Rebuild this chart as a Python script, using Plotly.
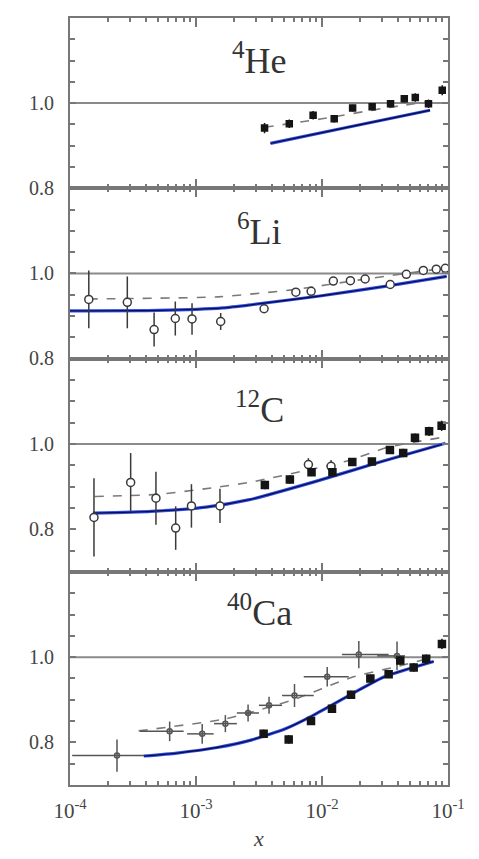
import plotly.graph_objects as go
from plotly.subplots import make_subplots

# ---------------- data ----------------
PANEL_LABELS = ["<sup>4</sup>He", "<sup>6</sup>Li", "<sup>12</sup>C", "<sup>40</sup>Ca"]
Y_RANGES = [[0.799, 1.2], [0.799, 1.2], [0.70, 1.2], [0.70, 1.2]]
X_TICKS = [1e-4, 1e-3, 1e-2, 1e-1]
X_TICKTEXT = ["10<sup>-4</sup>", "10<sup>-3</sup>", "10<sup>-2</sup>", "10<sup>-1</sup>"]
Y_TICKS = [0.8, 1.0]
Y_TICKTEXT = ["0.8", "1.0"]
UNITY = 1.0

# 4He
HE_X = [0.0035, 0.0055, 0.0085, 0.0125, 0.0175, 0.025, 0.035, 0.045, 0.055, 0.07, 0.09]
HE_Y = [0.941, 0.951, 0.971, 0.963, 0.988, 0.991, 0.998, 1.010, 1.013, 0.998, 1.030]
HE_ERR = [0.012, 0.010, 0.010, 0.009, 0.008, 0.008, 0.008, 0.009, 0.010, 0.010, 0.012]
HE_MODEL_X = [0.0039, 0.016, 0.072]
HE_MODEL_Y = [0.905, 0.943, 0.983]
HE_DASH_X = [0.0035, 0.01, 0.03, 0.072]
HE_DASH_Y = [0.943, 0.963, 0.987, 1.004]

# 6Li
LI_X = [1.41e-4, 2.85e-4, 4.65e-4, 6.85e-4, 9.3e-4, 1.57e-3, 3.47e-3, 6.2e-3, 8.2e-3,
        0.0123, 0.0168, 0.022, 0.0348, 0.0467, 0.0637, 0.0807, 0.0953]
LI_Y = [0.939, 0.932, 0.868, 0.894, 0.893, 0.887, 0.917, 0.956, 0.958,
        0.982, 0.983, 0.987, 0.974, 0.998, 1.007, 1.010, 1.012]
LI_ERR = [0.068, 0.061, 0.040, 0.040, 0.037, 0.020, 0.010, 0.008, 0.008,
          0.008, 0.008, 0.008, 0.008, 0.008, 0.008, 0.008, 0.008]
LI_MODEL_X = [1e-4, 5e-4, 1.64e-3, 2.84e-3, 9.6e-3, 0.0325, 0.0975]
LI_MODEL_Y = [0.912, 0.913, 0.919, 0.927, 0.947, 0.970, 0.993]
LI_DASH_X = [1.4e-4, 1.5e-3, 6e-3, 0.02, 0.0975]
LI_DASH_Y = [0.940, 0.945, 0.962, 0.985, 1.013]

# 12C
C_OPEN_X = [1.55e-4, 3.03e-4, 4.81e-4, 6.9e-4, 9.2e-4, 1.55e-3, 7.8e-3, 0.0118]
C_OPEN_Y = [0.828, 0.910, 0.873, 0.803, 0.855, 0.855, 0.952, 0.948]
C_OPEN_ERR = [0.092, 0.069, 0.062, 0.051, 0.051, 0.040, 0.015, 0.015]
C_FILL_X = [3.52e-3, 5.56e-3, 8.26e-3, 0.0121, 0.0174, 0.0249, 0.0346, 0.0441, 0.0547, 0.0708, 0.089]
C_FILL_Y = [0.904, 0.917, 0.934, 0.934, 0.958, 0.959, 0.986, 0.979, 1.015, 1.030, 1.043]
C_FILL_ERR = [0.010, 0.010, 0.009, 0.009, 0.009, 0.009, 0.009, 0.010, 0.010, 0.011, 0.012]
C_MODEL_X = [1.52e-4, 4.4e-4, 1.2e-3, 2.6e-3, 8.8e-3, 0.0297, 0.0955]
C_MODEL_Y = [0.838, 0.842, 0.852, 0.869, 0.912, 0.959, 1.002]
C_DASH_X = [1.57e-4, 5.0e-4, 1.32e-3, 2.75e-3, 0.0161, 0.0336, 0.1]
C_DASH_Y = [0.877, 0.882, 0.897, 0.911, 0.961, 0.993, 1.018]

# 40Ca
CA_E665_X = [2.36e-4, 6.18e-4, 1.12e-3, 1.71e-3, 2.59e-3, 3.8e-3, 6.05e-3, 0.011, 0.0196, 0.0394]
CA_E665_Y = [0.769, 0.826, 0.820, 0.844, 0.869, 0.887, 0.910, 0.954, 1.006, 1.003]
CA_E665_ERR = [0.038, 0.023, 0.023, 0.020, 0.020, 0.020, 0.027, 0.023, 0.032, 0.034]
CA_E665_XLO = [1.04e-4, 3.6e-4, 8.5e-4, 1.39e-3, 2.11e-3, 3.16e-3, 4.82e-3, 7.16e-3, 0.0144, 0.0274]
CA_E665_XHI = [3.86e-4, 7.98e-4, 1.38e-3, 2.11e-3, 3.16e-3, 4.82e-3, 8.6e-3, 0.0163, 0.0338, 0.0456]
CA_NMC_X = [3.44e-3, 5.44e-3, 8.18e-3, 0.012, 0.017, 0.0242, 0.0338, 0.0418, 0.0534, 0.0671, 0.0895]
CA_NMC_Y = [0.820, 0.807, 0.850, 0.879, 0.912, 0.950, 0.960, 0.992, 0.976, 0.996, 1.031]
CA_NMC_ERR = [0.010, 0.010, 0.009, 0.009, 0.009, 0.009, 0.009, 0.010, 0.010, 0.010, 0.012]
CA_MODEL_X = [3.85e-4, 7.06e-4, 1.47e-3, 2.78e-3, 5.12e-3, 8.07e-3, 0.0173, 0.0318, 0.0769]
CA_MODEL_Y = [0.768, 0.775, 0.788, 0.806, 0.832, 0.860, 0.914, 0.955, 0.990]
CA_DASH_X = [3.5e-4, 1.7e-3, 5.8e-3, 0.0173, 0.038, 0.0746]
CA_DASH_Y = [0.827, 0.855, 0.899, 0.953, 0.977, 0.999]

# ---------------- styles ----------------
FONT = "Liberation Serif"
AXIS_COL = "#777777"
TEXT_COL = "#444444"
BLUE = "#3050f0"
NAVY = "#0d0d45"
DASH_COL = "#7a7a7a"
PT_COL = "#151515"

fig = make_subplots(rows=4, cols=1, shared_xaxes=True, vertical_spacing=0,
                    row_heights=[0.4, 0.4, 0.5, 0.5])


def add_model(row, xs, ys):
    fig.add_trace(go.Scatter(x=xs, y=ys, mode="lines",
                             line=dict(color=BLUE, width=3.2, shape="spline", smoothing=0.5),
                             hoverinfo="skip"), row=row, col=1)
    fig.add_trace(go.Scatter(x=xs, y=ys, mode="lines",
                             line=dict(color=NAVY, width=1.3, shape="spline", smoothing=0.5),
                             hoverinfo="skip"), row=row, col=1)


def add_dash(row, xs, ys):
    fig.add_trace(go.Scatter(x=xs, y=ys, mode="lines",
                             line=dict(color=DASH_COL, width=1.6, dash="dash", shape="spline",
                                       smoothing=0.5)),
                  row=row, col=1)


def add_points(row, xs, ys, err, symbol, size, color=PT_COL, fill=None, ex=None):
    fig.add_trace(go.Scatter(
        x=xs, y=ys, mode="markers",
        marker=dict(symbol=symbol, size=size, color=fill if fill else color,
                    line=dict(color=color, width=1.5)),
        error_y=dict(type="data", array=err, color=color, thickness=1.5, width=0),
        error_x=ex), row=row, col=1)


# unity lines
for r in range(1, 5):
    fig.add_trace(go.Scatter(x=[X_TICKS[0], X_TICKS[-1]], y=[UNITY, UNITY], mode="lines",
                             line=dict(color="#8a8a8a", width=2)), row=r, col=1)

# He
add_dash(1, HE_DASH_X, HE_DASH_Y)
add_model(1, HE_MODEL_X, HE_MODEL_Y)
add_points(1, HE_X, HE_Y, HE_ERR, "square", 6)

# Li
add_dash(2, LI_DASH_X, LI_DASH_Y)
add_model(2, LI_MODEL_X, LI_MODEL_Y)
add_points(2, LI_X, LI_Y, LI_ERR, "circle", 8, color="#3a3a3a", fill="white")

# C
add_dash(3, C_DASH_X, C_DASH_Y)
add_model(3, C_MODEL_X, C_MODEL_Y)
add_points(3, C_OPEN_X, C_OPEN_Y, C_OPEN_ERR, "circle", 8, color="#3a3a3a", fill="white")
add_points(3, C_FILL_X, C_FILL_Y, C_FILL_ERR, "square", 7)

# Ca
add_dash(4, CA_DASH_X, CA_DASH_Y)
add_model(4, CA_MODEL_X, CA_MODEL_Y)
ex_plus = [hi - x for x, hi in zip(CA_E665_X, CA_E665_XHI)]
ex_minus = [x - lo for x, lo in zip(CA_E665_X, CA_E665_XLO)]
add_points(4, CA_E665_X, CA_E665_Y, CA_E665_ERR, "circle-open", 5, color="#555555",
           ex=dict(type="data", symmetric=False, array=ex_plus, arrayminus=ex_minus,
                   color="#555555", thickness=1.5, width=0))
add_points(4, CA_NMC_X, CA_NMC_Y, CA_NMC_ERR, "square", 7)

for r in range(1, 5):
    fig.update_xaxes(type="log", range=[-4, -1], tickvals=X_TICKS, ticktext=X_TICKTEXT,
                     ticks="inside", ticklen=9, tickcolor=AXIS_COL, tickwidth=1.5,
                     minor=dict(dtick="D1", ticks="inside", ticklen=4, tickcolor=AXIS_COL,
                                tickwidth=1.5, showgrid=False),
                     showline=True, linecolor=AXIS_COL, linewidth=2, mirror="allticks",
                     showgrid=False, zeroline=False,
                     showticklabels=(r == 4),
                     tickfont=dict(family=FONT, size=21, color=TEXT_COL), ticklabelstandoff=6,
                     row=r, col=1)
    fig.update_yaxes(range=Y_RANGES[r - 1], tickvals=Y_TICKS, ticktext=Y_TICKTEXT,
                     ticks="inside", ticklen=6, tickcolor=AXIS_COL, tickwidth=1.5,
                     minor=dict(dtick=0.05, ticks="inside", ticklen=5, tickcolor=AXIS_COL,
                                showgrid=False),
                     showline=True, linecolor=AXIS_COL, linewidth=2, mirror="allticks",
                     showgrid=False, zeroline=False,
                     tickfont=dict(family=FONT, size=20, color=TEXT_COL), ticklabelstandoff=10,
                     row=r, col=1)

fig.update_xaxes(title=dict(text="<i>x</i>", font=dict(family=FONT, size=22, color=TEXT_COL), standoff=8),
                 row=4, col=1)

label_y = [0.76, 0.76, 0.77, 0.82]
for i, (txt, ly) in enumerate(zip(PANEL_LABELS, label_y)):
    yref = "y domain" if i == 0 else f"y{i + 1} domain"
    xref = "x domain" if i == 0 else f"x{i + 1} domain"
    fig.add_annotation(text=txt, x=0.5, y=ly, xref=xref, yref=yref, showarrow=False,
                       xanchor="center", yanchor="middle",
                       font=dict(family=FONT, size=36, color="#333333"))

fig.update_layout(width=479, height=859, showlegend=False,
                  paper_bgcolor="white", plot_bgcolor="white",
                  margin=dict(l=70, r=31, t=18, b=67))

fig.write_html("out.html")
